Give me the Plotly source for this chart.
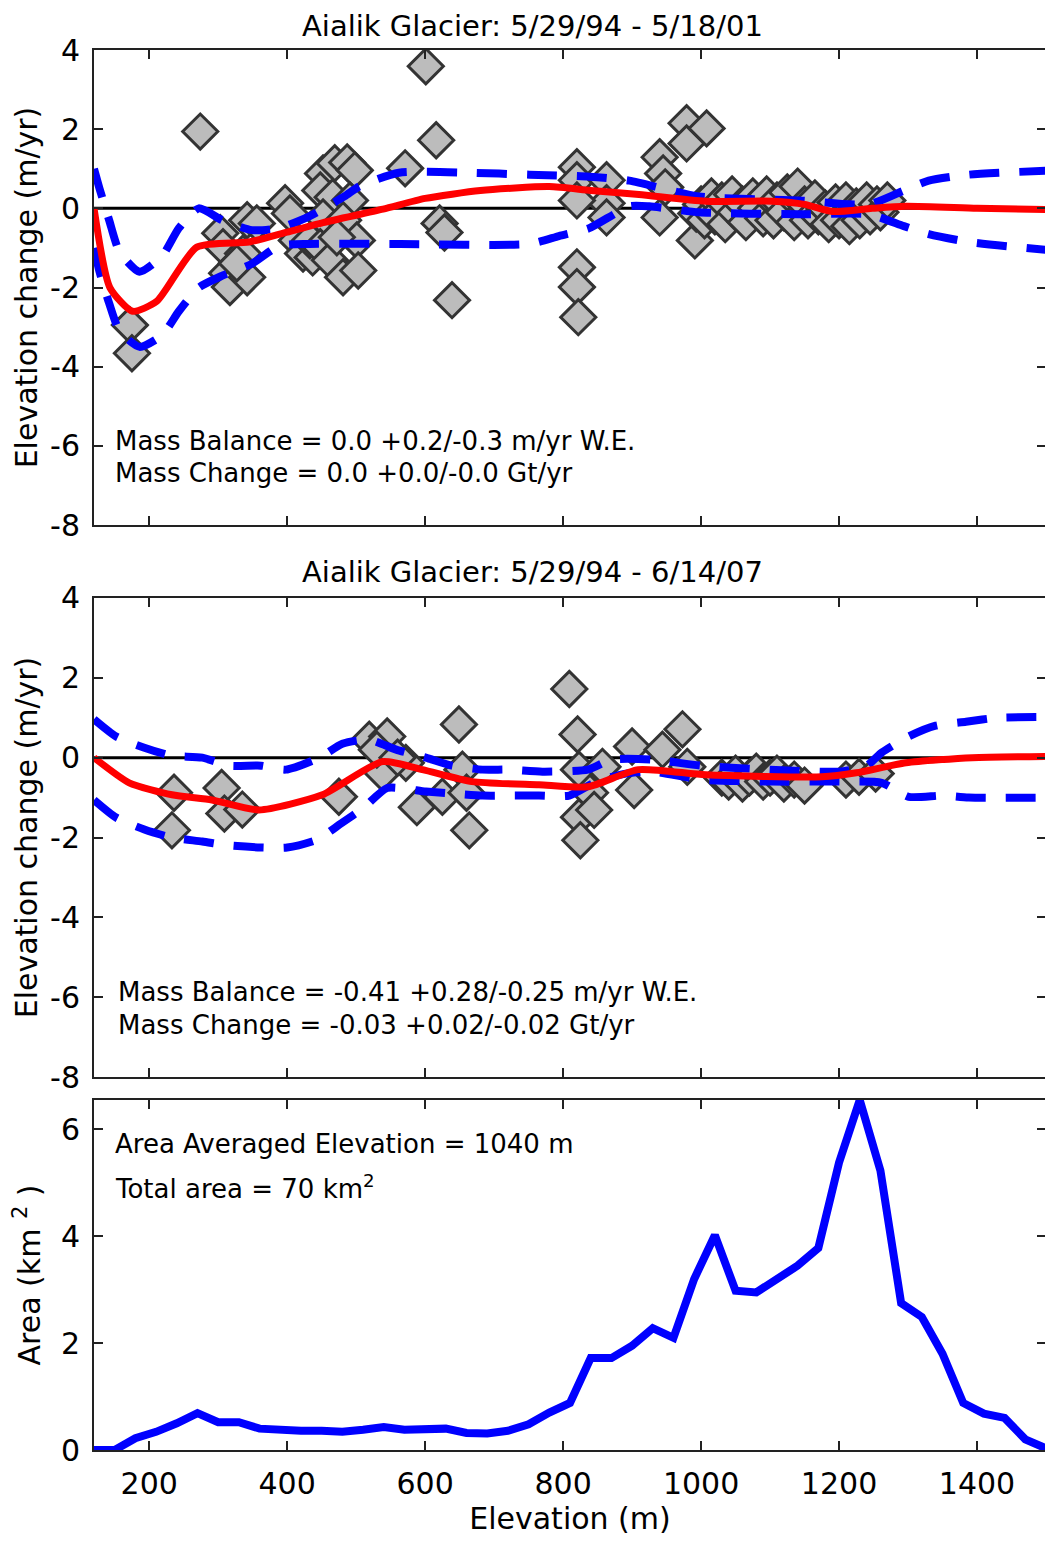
import plotly.graph_objects as go

# ---------------- data ----------------
# Panel 1: 5/29/94 - 5/18/01
p1_pts_x = [172, 175, 274, 397, 303, 307, 313, 317, 342, 356, 336, 342, 327,
            404, 414, 423, 437, 433,
            452, 469, 487, 498, 448, 466, 491, 452, 481, 501, 448, 462, 481, 503, 472,
            571, 601, 616, 621, 628, 639,
            820, 820, 863, 863, 863, 820, 820, 820, 822,
            940, 945, 948, 940, 979, 979, 1008, 991, 993,
            1000, 1005, 1015, 1020, 1030, 1035, 1045, 1050, 1060, 1065,
            1075, 1080, 1090, 1095, 1105, 1110, 1120, 1125, 1135, 1140,
            1150, 1155, 1165, 1170, 1180, 1185, 1195, 1200, 1210, 1215,
            1225, 1230, 1240, 1245, 1255, 1260, 1270]
p1_pts_y = [-2.95, -3.66, 1.94, 0.13, -0.63, -0.98, -1.64, -1.99, -0.30, -0.38, -1.14, -1.74, -1.39,
            -0.13, -0.81, -1.14, -1.24, -0.81,
            0.88, 1.14, 1.16, 0.96, 0.45, 0.28, 0.20, -0.23, -0.30, -0.81, -0.98, -1.31, -1.74, -1.57, -0.73,
            1.01, 3.59, 1.72, -0.38, -0.61, -2.32,
            1.04, 0.71, 0.71, 0.13, -0.23, 0.20, -1.49, -1.99, -2.75,
            1.29, 0.88, 0.53, -0.23, 2.15, 1.64, 2.02, -0.81, -0.13,
            0.1, -0.3, 0.3, -0.2, 0.2, -0.4, 0.35, -0.1, 0.1, -0.35,
            0.3, 0.0, -0.25, 0.35, -0.3, 0.2, -0.1, 0.4, -0.35, 0.55,
            0.1, -0.3, 0.25, -0.2, 0.0, -0.4, 0.15, -0.3, 0.2, -0.45,
            0.05, -0.3, 0.2, -0.2, 0.1, -0.1, 0.2]
p1_fit_x = [120, 143, 176, 211, 269, 345, 400, 452, 539, 600, 680, 780, 840, 910,
            1007, 1103, 1150, 1190, 1248, 1297, 1400, 1500]
p1_fit_y = [0.0, -2.0, -2.6, -2.35, -0.98, -0.85, -0.6, -0.36, -0.02, 0.25, 0.45, 0.55, 0.45, 0.35,
            0.18, 0.18, 0.1, -0.08, 0.0, 0.05, 0.0, -0.03]
p1_up_x = [120, 128, 142, 157, 186, 219, 243, 272, 306, 349, 388, 432, 483, 504, 562, 664,
           751, 838, 896, 997, 1142, 1243, 1294, 1330, 1388, 1500]
p1_up_y = [1.0, 0.5, -0.3, -1.1, -1.6, -1.2, -0.5, 0.0, -0.3, -0.55, -0.5, -0.2, 0.3, 0.55, 0.9, 0.9,
           0.85, 0.8, 0.7, 0.3, 0.2, 0.1, 0.45, 0.7, 0.85, 0.95]
p1_lo_x = [120, 128, 142, 157, 186, 219, 243, 272, 306, 349, 388, 432, 564, 751, 794, 838,
           896, 925, 997, 1142, 1243, 1294, 1330, 1388, 1500]
p1_lo_y = [-1.0, -1.6, -2.4, -3.1, -3.5, -3.2, -2.6, -2.0, -1.7, -1.4, -0.95, -0.9, -0.9, -0.9, -0.7, -0.5,
           0.05, 0.05, -0.1, -0.15, -0.15, -0.45, -0.65, -0.85, -1.05]

# Panel 2: 5/29/94 - 6/14/07
p2_pts_x = [236, 233, 305, 309, 335, 475, 519, 545, 538, 572, 530, 560, 649, 588, 625, 654, 660, 664,
            809, 821, 823, 823, 825, 839, 845, 857, 900, 903, 944, 973, 980,
            1030, 1040, 1050, 1060, 1070, 1080, 1090, 1100, 1110, 1120, 1135, 1150,
            1210, 1229, 1253]
p2_pts_y = [-0.88, -1.82, -0.76, -1.40, -1.30, -0.98, 0.45, 0.53, -0.38, -0.13, 0.2, 0.0, 0.83, -1.24, -0.98, -0.30, -0.88, -1.82,
            1.72, 0.58, -0.30, -1.49, -2.07, -0.88, -1.31, -0.23, 0.28, -0.81, 0.20, 0.71, -0.23,
            -0.5, -0.6, -0.4, -0.65, -0.5, -0.35, -0.6, -0.5, -0.4, -0.65, -0.55, -0.7,
            -0.55, -0.48, -0.40]
p2_fit_x = [120, 171, 233, 291, 359, 451, 538, 596, 668, 765, 836, 909, 1007, 1175, 1225, 1297, 1393, 1500]
p2_fit_y = [0.0, -0.63, -0.93, -1.06, -1.31, -0.93, -0.1, -0.3, -0.6, -0.68, -0.73, -0.3, -0.43, -0.48, -0.38, -0.13, 0.0, 0.03]
p2_up_x = [120, 152, 193, 232, 277, 316, 362, 398, 447, 480, 519, 558, 601, 639, 683, 722, 770,
           836, 870, 930, 1000, 1100, 1200, 1240, 1262, 1301, 1340, 1384, 1430, 1500]
p2_up_y = [0.96, 0.53, 0.25, 0.05, 0.0, -0.2, -0.2, -0.3, 0.0, 0.35, 0.45, 0.2, 0.0, -0.2, -0.3, -0.3, -0.35,
           -0.3, -0.05, -0.05, -0.2, -0.3, -0.35, -0.2, 0.13, 0.53, 0.8, 0.9, 1.0, 1.02]
p2_lo_x = [120, 152, 193, 232, 277, 316, 362, 400, 444, 478, 512, 545, 601, 639, 683, 722, 765,
           809, 848, 891, 930, 1000, 1100, 1200, 1262, 1301, 1350, 1388, 1500]
p2_lo_y = [-1.06, -1.5, -1.8, -2.0, -2.1, -2.2, -2.25, -2.25, -2.05, -1.65, -1.24, -0.76, -0.85, -0.9, -0.95, -0.95, -0.95,
           -0.95, -0.6, -0.4, -0.35, -0.55, -0.6, -0.6, -0.63, -0.98, -0.95, -1.0, -1.0]

# Panel 3: area-elevation distribution
hyp_x = [120, 150, 180, 210, 240, 270, 300, 330, 360, 390, 420, 450, 480, 510, 540, 570,
         600, 630, 660, 690, 720, 750, 780, 810, 840, 870, 900, 930, 960, 990, 1020, 1050,
         1080, 1110, 1140, 1170, 1200, 1230, 1260, 1290, 1320, 1350, 1380, 1410, 1440, 1470, 1500]
hyp_area = [0.0, 0.0, 0.22, 0.34, 0.5, 0.69, 0.52, 0.52, 0.4, 0.37, 0.36, 0.36, 0.34, 0.38, 0.43, 0.38,
            0.4, 0.4, 0.32, 0.31, 0.36, 0.48, 0.7, 0.88, 1.72, 1.72, 1.95, 2.28, 2.1, 3.2, 4.02, 2.98,
            2.95, 3.2, 3.45, 3.78, 5.38, 6.55, 5.23, 2.75, 2.49, 1.8, 0.88, 0.68, 0.6, 0.2, 0.03]

x_ticks = [200, 400, 600, 800, 1000, 1200, 1400]
y_ticks_dh = [-8, -6, -4, -2, 0, 2, 4]
y_ticktext_dh = ["-8", "-6", "-4", "-2", "0", "2", "4"]
y_ticks_area = [0, 2, 4, 6]

titles = ["Aialik Glacier: 5/29/94 - 5/18/01", "Aialik Glacier: 5/29/94 - 6/14/07"]
notes1 = ["Mass Balance = 0.0 +0.2/-0.3 m/yr W.E.", "Mass Change = 0.0 +0.0/-0.0 Gt/yr"]
notes2 = ["Mass Balance = -0.41 +0.28/-0.25 m/yr W.E.", "Mass Change = -0.03 +0.02/-0.02 Gt/yr"]
notes3 = ["Area Averaged Elevation = 1040 m", "Total area = 70 km<sup>2</sup>"]

# ---------------- figure ----------------
FONT = "DejaVu Sans"
AX = "#222222"
fig = go.Figure()

panels = [
    (p1_pts_x, p1_pts_y, p1_fit_x, p1_fit_y, p1_up_x, p1_up_y, p1_lo_x, p1_lo_y),
    (p2_pts_x, p2_pts_y, p2_fit_x, p2_fit_y, p2_up_x, p2_up_y, p2_lo_x, p2_lo_y),
]
for i, (px, py, fx, fy, ux, uy, lx, ly) in enumerate(panels):
    xa = "x" if i == 0 else "x2"
    ya = "y" if i == 0 else "y2"
    fig.add_trace(go.Scatter(x=px, y=py, mode="markers", xaxis=xa, yaxis=ya,
                             marker=dict(symbol="diamond", size=27, color="#bcbcbc",
                                         line=dict(color="#333333", width=3)),
                             showlegend=False, hoverinfo="skip"))
    for bx, by in ((ux, uy), (lx, ly)):
        fig.add_trace(go.Scatter(x=bx, y=by, mode="lines", xaxis=xa, yaxis=ya,
                                 line=dict(color="#0000ff", width=8, dash="30px,20px",
                                           shape="spline", smoothing=0.6),
                                 showlegend=False, hoverinfo="skip"))
    fig.add_trace(go.Scatter(x=fx, y=fy, mode="lines", xaxis=xa, yaxis=ya,
                             line=dict(color="#ff0000", width=7, shape="spline", smoothing=0.6),
                             showlegend=False, hoverinfo="skip"))

fig.add_trace(go.Scatter(x=hyp_x, y=hyp_area, mode="lines", xaxis="x3", yaxis="y3",
                         line=dict(color="#0000ff", width=8),
                         showlegend=False, hoverinfo="skip"))

# zero lines (under markers)
for xa, ya in (("x", "y"), ("x2", "y2")):
    fig.add_shape(type="line", xref=f"{xa} domain", yref=ya, x0=0, x1=1, y0=0, y1=0,
                  line=dict(color="black", width=3), layer="below")

TICKFONT = dict(family=FONT, size=30, color="black")
common_x = dict(range=[120, 1500], tickvals=x_ticks, ticks="inside", ticklen=9, tickwidth=2,
                tickcolor=AX, showline=True, linecolor=AX, linewidth=2, mirror="ticks",
                showgrid=False, zeroline=False, automargin=False, tickfont=TICKFONT)
common_y = dict(ticks="inside", ticklen=9, tickwidth=2, tickcolor=AX, showline=True,
                linecolor=AX, linewidth=2, mirror="ticks", showgrid=False, zeroline=False,
                automargin=False, tickfont=TICKFONT, ticklabelstandoff=6)

# page body has an 8px default margin: figure is sized/offset to compensate
fig.update_layout(
    width=1045, height=1541,
    margin=dict(l=86, r=7, t=42, b=99),
    paper_bgcolor="white", plot_bgcolor="white",
    font=dict(family=FONT, color="black"),
    xaxis=dict(common_x, domain=[0, 1], anchor="y", showticklabels=False),
    xaxis2=dict(common_x, domain=[0, 1], anchor="y2", showticklabels=False),
    xaxis3=dict(common_x, domain=[0, 1], anchor="y3", showticklabels=True, ticklabelstandoff=6,
                title=dict(text="Elevation (m)", font=dict(family=FONT, size=30), standoff=6)),
    yaxis=dict(common_y, domain=[0.6607, 1.0], anchor="x", range=[-8, 4], tickvals=y_ticks_dh,
               ticktext=y_ticktext_dh,
               title=dict(text="Elevation change (m/yr)", font=dict(family=FONT, size=30), standoff=4)),
    yaxis2=dict(common_y, domain=[0.2664, 0.6086], anchor="x2", range=[-8, 4], tickvals=y_ticks_dh,
                ticktext=y_ticktext_dh,
                title=dict(text="Elevation change (m/yr)", font=dict(family=FONT, size=30), standoff=4)),
    yaxis3=dict(common_y, domain=[0.0, 0.25], anchor="x3", range=[0, 6.55], tickvals=y_ticks_area,
                title=dict(text="Area (km <sup>2</sup> )", font=dict(family=FONT, size=30), standoff=24)),
)

# titles
for t, yy in zip(titles, [1.0171, 0.6271]):
    fig.add_annotation(text=t, xref="paper", yref="paper", x=0.461, y=yy, xanchor="center",
                       yanchor="middle", showarrow=False, borderpad=0,
                       font=dict(family=FONT, size=29, color="black"))

# in-panel notes
def add_notes(lines, xd, yd, ys, xpos):
    for line, yy in zip(lines, ys):
        fig.add_annotation(text=line, xref=xd, yref=yd, x=xpos, y=yy, xanchor="left",
                           yanchor="middle", showarrow=False,
                           font=dict(family=FONT, size=26, color="black"))

add_notes(notes1, "x domain", "y domain", [0.176, 0.109], 0.02)
add_notes(notes2, "x2 domain", "y2 domain", [0.177, 0.109], 0.023)
add_notes(notes3, "x3 domain", "y3 domain", [0.875, 0.752], 0.02)

fig.write_html("out.html")
